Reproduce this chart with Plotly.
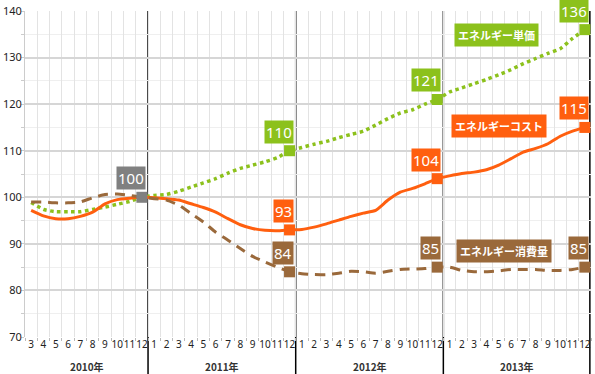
import plotly.graph_objects as go

years = [2010] * 10 + [2011] * 12 + [2012] * 12 + [2013] * 12
months = list(range(3, 13)) + list(range(1, 13)) * 3
categories = [f"{y}/{m}" for y, m in zip(years, months)]

unit_price = [98.9, 97.4, 96.9, 96.9, 96.9, 97.4, 97.9, 98.5, 99.1, 100.0,
              100.4, 100.6, 101.3, 102.2, 103.1, 104.0, 105.2, 106.2, 106.9, 107.6, 108.5, 110.0,
              110.7, 111.4, 112.0, 112.8, 113.5, 114.2, 115.5, 116.9, 118.1, 118.8, 120.0, 121.0,
              122.6, 123.5, 124.4, 125.3, 126.3, 127.4, 128.7, 129.8, 130.9, 131.9, 134.1, 136.0]
cost = [97.2, 96.0, 95.4, 95.4, 95.9, 96.8, 98.6, 99.5, 99.8, 100.0,
        99.9, 99.7, 99.4, 98.6, 97.8, 96.8, 95.4, 94.1, 93.3, 92.9, 92.8, 93.0,
        93.1, 93.6, 94.3, 95.1, 95.9, 96.6, 97.2, 99.4, 101.1, 101.9, 102.9, 104.0,
        104.6, 105.1, 105.4, 105.9, 106.9, 108.3, 109.7, 110.5, 111.5, 113.1, 114.2, 115.0]
consumption = [99.0, 99.0, 98.8, 98.8, 99.0, 99.9, 100.6, 100.7, 100.4, 100.0,
               99.7, 99.4, 98.3, 96.5, 94.7, 92.5, 90.8, 89.0, 87.3, 86.1, 85.0, 84.0,
               83.6, 83.4, 83.4, 83.7, 84.1, 84.0, 83.7, 84.1, 84.5, 84.6, 84.7, 85.0,
               85.0, 84.3, 84.0, 84.0, 84.2, 84.5, 84.5, 84.5, 84.3, 84.3, 84.5, 85.0]

series_names = ["エネルギー単価", "エネルギーコスト", "エネルギー消費量"]
year_labels = ["2010年", "2011年", "2012年", "2013年"]
y_ticks = [70, 80, 90, 100, 110, 120, 130, 140]

GREEN = "#8cc11c"
ORANGE = "#ff5f0f"
BROWN = "#9a693b"
GREY = "#808080"

fig = go.Figure()

series = [(unit_price, GREEN, dict(dash="dot", width=3.5)),
          (cost, ORANGE, dict(width=3)),
          (consumption, BROWN, dict(dash="10px,7px", width=3))]

for (vals, col, ln), name in zip(series, series_names):
    fig.add_trace(go.Scatter(x=categories, y=vals, mode="lines", name=name,
                             line=dict(color=col, shape="spline", smoothing=0.5, **ln),
                             showlegend=False, hoverinfo="skip"))

# December markers
dec_idx = [i for i, m in enumerate(months) if m == 12]
for (vals, col, _), name in zip(series, series_names):
    xs = [categories[i] for i in dec_idx[1:]]
    ys = [vals[i] for i in dec_idx[1:]]
    fig.add_trace(go.Scatter(x=xs, y=ys, mode="markers",
                             marker=dict(symbol="square", size=11, color=col),
                             showlegend=False, hoverinfo="skip"))
    for x, y in zip(xs, ys):
        fig.add_annotation(x=x, y=y, text=f"{y:.0f}", showarrow=False,
                           xanchor="right", yanchor="bottom", xshift=4, yshift=7,
                           bgcolor=col, borderpad=1,
                           font=dict(family="Noto Sans", size=15, color="white"))

base_i = dec_idx[0]
fig.add_trace(go.Scatter(x=[categories[base_i]], y=[cost[base_i]], mode="markers",
                         marker=dict(symbol="square", size=11, color=GREY),
                         showlegend=False, hoverinfo="skip"))
fig.add_annotation(x=categories[base_i], y=cost[base_i], text=f"{cost[base_i]:.0f}",
                   showarrow=False, xanchor="right", yanchor="bottom", xshift=4, yshift=7,
                   bgcolor=GREY, borderpad=1,
                   font=dict(family="Noto Sans", size=15, color="white"))

# series name labels
name_pos = [(37.86, 134.9), (38.06, 115.35), (38.43, 88.5)]
for (nx, ny), (_, col, _), name in zip(name_pos, series, series_names):
    fig.add_annotation(x=nx, y=ny, text=f"<b>{name}</b>", showarrow=False,
                       bgcolor=col, borderpad=3,
                       font=dict(family="Noto Sans CJK JP", size=11, color="white"))

# year labels
starts = [i for i in range(len(years)) if i == 0 or years[i] != years[i - 1]]
ends = starts[1:] + [len(years)]
for s, e, lab in zip(starts, ends, year_labels):
    fig.add_annotation(x=(s + e - 1) / 2, y=-0.092, yref="paper", text=f"<b>{lab}</b>",
                       showarrow=False, yanchor="middle",
                       font=dict(family="Noto Sans CJK JP", size=10, color="#333333"))

# year divider lines
for e in ends[:-1]:
    fig.add_shape(type="line", x0=e - 0.5, x1=e - 0.5, y0=-0.16, y1=1,
                  xref="x", yref="paper", line=dict(color="black", width=1.5), layer="between")
fig.add_shape(type="line", x0=0.998, x1=0.998, y0=-0.16, y1=1, xref="paper", yref="paper",
              line=dict(color="black", width=1.5), layer="between")
fig.add_shape(type="line", x0=0, x1=1, y0=100, y1=100, xref="paper", yref="y",
              line=dict(color="black", width=1.5), layer="between")

fig.update_xaxes(type="category", categoryorder="array", categoryarray=categories,
                 range=[-0.5, len(categories) - 0.5], autorange=False,
                 tickvals=categories, ticktext=[str(m) for m in months],
                 tickson="boundaries", ticks="outside", ticklen=3, tickcolor="#bbbbbb",
                 showgrid=True, gridcolor="#e3e3e3", gridwidth=1,
                 showline=False, zeroline=False,
                 tickfont=dict(family="Noto Sans", size=10, color="#222222"),
                 tickangle=0)
fig.update_yaxes(range=[70, 140], autorange=False, tickvals=y_ticks, ticks="", showgrid=True,
                 gridcolor="#d6d6d6", gridwidth=1.5, zeroline=False,
                 showline=True, linecolor="#cccccc", linewidth=1,
                 minor=dict(dtick=5, showgrid=True, gridcolor="#efefef", gridwidth=1,
                            ticks="outside", ticklen=3, tickcolor="#cccccc"),
                 tickfont=dict(family="Noto Sans", size=11, color="#222222"))

fig.update_layout(width=595, height=374, margin=dict(l=25, r=4, t=11, b=37),
                  plot_bgcolor="white", paper_bgcolor="white")

fig.write_html("out.html", config={"displayModeBar": False},
               post_script="document.body.style.margin='0';document.body.style.overflow='hidden';")
